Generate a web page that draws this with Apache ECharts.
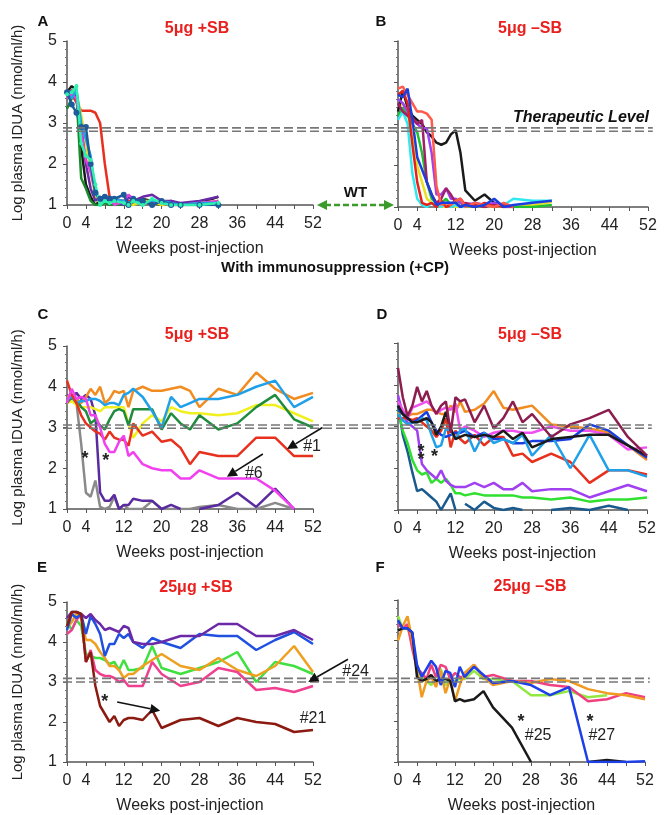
<!DOCTYPE html>
<html>
<head>
<meta charset="utf-8">
<script src="https://cdn.jsdelivr.net/npm/echarts@6/dist/echarts.min.js"></script>
<style>
html,body{margin:0;padding:0;background:#fff;}
#chart{width:669px;height:815px;}
</style>
</head>
<body>
<div id="chart"></div>
<script>
// weeks sampled in each panel
var weeksA = [0,1,2,3,4,5,6,7,8,9,10,12,13,14,16,18,20,22,24,28,32];
var weeksB = [0,1,2,3,4,5,6,7,8,9,10,11,12,13,14,16,18,20,22,24,28,32];
var weeksCD = [0,1,2,3,4,5,6,7,8,9,10,11,12,13,14,16,18,20,22,24,26,28,32,36,40,44,48,52];
var weeksEF = [0,1,2,3,4,5,6,7,8,9,10,11,12,13,14,16,18,20,24,28,32,36,40,44,48,52];

// A: 5ug +SB, no CP
var aBlack   = [3.75,3.9,3.8,2.4,1.5,1.2,1.0,1.1,1.15,1.1,1.05,1.05,1.1,1.05,1.15,1.1,1.0,1.1,1.0,1.05,1.2];
var aRed     = [3.8,3.7,3.5,3.3,3.3,3.3,3.25,3.0,2.0,1.2,1.15,1.1,1.1,1.05,1.05,1.05,1.0,1.0,1.0,null,null];
var aGreen   = [3.35,3.6,3.7,1.65,1.4,1.1,1.0,1.0,1.05,1.0,1.0,1.0,1.05,1.0,1.1,1.05,1.0,1.05,1.0,1.0,1.1];
var aYellow  = [3.7,3.8,3.7,3.2,2.5,1.8,1.2,1.05,1.1,1.1,1.05,1.05,1.0,1.0,1.1,1.1,1.0,1.05,1.0,1.05,1.1];
var aPurple  = [3.7,3.8,3.6,2.9,2.0,1.4,1.1,1.2,1.1,1.15,1.1,1.0,1.2,1.1,1.2,1.25,1.1,1.1,1.05,1.1,1.2];
var aMagenta = [3.6,3.7,3.6,2.8,2.1,1.8,1.3,1.1,1.15,1.2,1.0,1.1,1.25,1.15,1.05,1.1,1.05,1.0,1.0,1.05,1.1];
var aSky     = [3.7,3.6,3.8,3.0,2.6,2.2,1.3,1.1,1.1,1.2,1.15,1.1,1.05,1.1,1.05,1.1,1.1,1.05,1.0,1.05,1.05];
var aNavy    = [3.75,3.45,3.25,2.9,2.9,2.0,1.3,1.15,1.2,1.15,1.15,1.25,1.0,1.15,1.1,1.0,1.1,1.0,1.0,1.0,1.0];
var aAqua    = [3.7,3.75,3.9,2.5,2.2,2.1,1.5,1.0,1.1,1.05,1.1,1.05,1.0,1.1,1.0,1.15,1.05,1.0,1.0,1.0,1.05];

// B: 5ug -SB, no CP
var bBlack  = [3.3,3.8,3.4,3.2,3.1,3.0,2.8,2.7,2.55,2.5,2.55,2.75,2.85,2.3,1.4,1.15,1.3,1.1,1.05,1.0,null,null];
var bSalmon = [3.85,3.9,3.7,3.5,3.3,3.3,3.25,3.1,1.5,1.05,1.1,1.05,1.15,1.2,1.0,1.1,1.05,1.0,1.1,1.0,null,null];
var bRed    = [3.7,3.8,3.5,2.5,1.6,1.1,1.05,1.1,1.0,1.15,1.0,1.05,1.15,1.2,1.05,1.0,1.1,1.0,1.05,1.0,null,null];
var bBlue   = [3.7,3.65,3.85,3.1,2.2,1.9,1.6,1.3,1.05,1.1,1.1,1.1,1.1,1.0,1.05,1.0,1.05,1.2,1.0,1.05,1.1,1.15];
var bViolet = [3.6,3.5,3.3,3.1,3.0,2.9,2.9,2.3,1.3,1.3,1.45,1.2,1.2,1.1,1.05,1.1,1.05,1.1,1.0,1.0,null,null];
var bMaroon = [3.5,3.3,3.2,3.15,3.0,3.1,1.6,1.3,1.1,1.2,1.45,1.3,1.1,1.0,1.1,1.05,1.0,1.05,1.0,null,null,null];
var bGreen  = [3.2,3.4,3.2,3.0,2.8,2.3,1.6,1.2,1.1,1.1,1.2,1.05,1.15,1.1,1.0,1.05,1.0,1.1,1.0,1.0,1.0,1.05];
var bCyan   = [3.1,3.3,3.0,1.8,1.2,1.05,1.0,1.1,1.05,1.0,1.1,1.0,1.05,1.0,1.0,1.1,1.05,1.0,1.05,1.2,1.15,1.15];
var bYellow = [3.4,3.5,3.3,2.7,2.0,1.6,1.2,1.1,1.05,1.0,1.0,1.05,1.0,1.0,1.0,1.0,1.0,1.0,1.0,1.0,1.05,1.12];

// C: 5ug +SB, +CP
var cOrange  = [3.75,3.8,3.7,3.6,3.75,3.95,3.8,4.0,3.6,3.7,3.9,3.85,3.9,3.5,3.9,4.0,3.9,3.9,3.95,4.0,3.9,3.5,3.95,3.8,4.35,3.95,3.7,3.85];
var cBlue    = [3.7,3.75,3.6,3.65,3.65,3.7,3.7,3.65,3.55,3.6,3.6,3.55,3.8,3.85,3.95,3.75,3.4,3.0,3.75,3.5,3.6,3.7,3.7,3.8,4.0,4.15,3.5,3.75];
var cGreen   = [3.6,3.75,3.7,3.5,3.4,3.1,3.2,3.05,2.95,3.2,3.4,3.45,3.4,3.05,3.45,3.45,3.45,2.95,3.35,3.1,2.95,3.3,2.95,3.1,3.5,3.8,3.2,3.0];
var cYellow  = [3.6,3.65,3.55,3.5,3.5,3.5,3.45,3.4,3.5,3.5,3.5,3.5,3.5,3.1,2.75,3.1,3.3,3.15,3.5,3.4,3.35,3.35,3.3,3.35,3.55,3.55,3.35,3.15];
var cRed     = [4.15,3.8,3.6,3.3,3.1,3.0,2.9,2.85,2.7,2.9,2.75,2.7,2.7,2.55,3.1,2.8,2.9,2.65,2.7,2.5,2.1,2.4,2.3,2.3,2.75,2.75,2.3,2.3];
var cMagenta = [3.6,3.95,3.7,3.75,3.7,3.3,3.3,3.0,2.6,2.4,2.4,2.65,2.8,2.3,2.4,2.1,2.0,1.95,1.95,1.75,1.75,1.95,1.75,1.75,1.75,1.45,1.0,null];
var cPurple  = [3.8,3.7,3.85,3.7,3.8,3.7,3.3,1.4,1.2,1.2,1.35,1.0,1.1,1.1,1.25,1.2,1.2,1.0,1.1,1.0,null,1.0,1.1,1.4,1.05,1.5,1.0,null];
var cGray    = [3.7,3.65,3.6,2.6,1.4,1.3,1.7,1.05,1.0,1.05,1.3,1.0,1.1,1.0,1.0,1.0,1.2,1.0,1.0,1.0,1.0,1.05,1.1,1.0,1.0,1.15,1.0,null];

// D: 5ug -SB, +CP
var dMaroon = [4.4,3.7,3.25,3.5,3.95,3.6,3.85,3.5,3.3,3.5,3.6,2.85,3.7,3.6,3.65,3.1,3.5,2.95,3.2,3.6,3.1,3.3,2.75,3.05,3.2,3.4,2.75,2.3];
var dOrange = [3.3,3.35,3.25,3.3,3.3,3.35,3.4,3.4,3.35,3.3,3.3,3.5,3.35,3.6,3.35,3.4,3.55,3.85,3.45,3.4,3.45,3.5,3.05,3.0,2.95,2.85,2.55,2.2];
var dPink   = [3.6,3.4,3.2,3.45,3.5,3.55,3.6,3.5,3.3,3.4,3.45,3.4,3.55,2.9,3.0,2.9,2.75,2.85,2.9,2.9,2.85,2.85,3.0,2.9,2.9,2.8,2.45,2.5];
var dBlack  = [3.5,3.3,3.2,3.1,3.1,3.15,3.2,3.1,2.8,3.0,3.35,2.95,2.7,2.75,2.8,2.75,2.8,2.75,2.9,2.7,2.85,2.5,2.7,2.75,2.8,2.8,2.55,2.3];
var dBlue   = [3.4,3.3,3.2,3.1,3.15,3.25,3.35,3.1,2.9,2.8,2.75,2.8,2.85,2.85,2.9,2.75,2.85,2.7,2.7,2.6,2.6,2.65,2.65,2.7,3.05,2.9,2.55,2.25];
var dSky    = [3.3,3.15,3.05,3.1,3.1,3.2,3.15,2.8,2.5,2.55,2.95,2.9,2.7,2.9,2.95,2.4,2.85,2.6,2.7,2.6,2.8,2.3,2.8,2.0,2.8,1.95,1.95,1.8];
var dRed    = [3.2,3.2,3.2,3.15,3.2,3.1,3.0,2.9,2.75,2.9,3.2,2.5,2.9,2.7,2.6,2.8,2.55,2.75,2.75,2.3,2.35,2.15,2.35,2.15,1.65,1.95,1.95,1.85];
var dViolet = [3.75,3.3,3.1,3.0,2.9,2.1,1.95,1.85,1.75,1.95,1.7,1.6,1.55,1.55,1.55,1.65,1.55,1.65,1.5,1.5,1.65,1.45,1.5,1.5,1.3,1.45,1.6,1.45];
var dGreen  = [3.4,2.9,2.6,2.2,1.95,1.85,1.9,1.65,1.75,1.65,1.75,1.6,1.4,1.4,1.35,1.4,1.35,1.35,1.35,1.35,1.3,1.3,1.25,1.3,1.2,1.25,1.25,1.3];
var dTeal   = [3.5,2.8,2.4,1.9,1.45,1.5,1.4,1.3,1.2,1.0,1.2,1.4,1.0,null,1.15,1.0,1.2,1.05,1.0,1.05,1.0,null,1.0,1.05,1.0,1.1,1.0,null];

// E: 25ug +SB, +CP
var ePurple  = [4.6,4.75,4.75,4.7,4.6,4.7,4.55,4.45,4.3,4.35,4.3,4.25,4.4,4.35,4.0,3.95,3.95,4.0,4.15,4.15,4.45,4.45,4.15,4.15,4.3,4.05];
var eBlue    = [4.3,4.7,4.6,4.7,4.2,4.65,4.45,4.2,3.65,3.95,3.95,4.2,4.1,4.2,4.0,3.85,4.1,4.0,3.85,4.2,4.15,4.15,3.8,4.05,4.25,3.95];
var eGreen   = [4.5,4.3,4.55,4.4,3.7,3.65,3.6,3.6,3.55,3.45,3.5,3.3,3.55,3.3,3.3,3.35,3.9,3.35,3.2,3.35,3.5,3.75,3.0,3.5,3.4,3.2];
var eOrange  = [4.35,4.5,4.7,4.6,4.05,4.05,3.95,3.75,3.6,3.4,3.4,3.3,3.1,3.2,3.2,3.4,3.55,3.7,3.4,3.3,3.6,3.3,3.15,3.4,3.9,3.25];
var ePink    = [4.2,4.3,4.55,4.7,3.5,3.8,3.3,3.2,3.15,3.15,3.1,3.0,3.05,2.9,2.9,2.9,3.5,3.2,2.9,3.0,3.35,3.25,2.8,2.85,2.75,2.9];
var eDarkRed = [4.4,4.75,4.75,4.7,3.5,3.75,2.9,2.4,2.2,2.0,2.15,1.9,2.05,2.1,2.1,2.05,2.3,1.85,2.05,2.1,1.9,2.1,2.0,1.95,1.75,1.8];

// F: 25ug -SB, +CP
var fLime   = [4.6,4.3,4.3,4.0,3.3,3.1,3.0,2.9,3.1,3.3,2.9,3.0,3.0,3.05,3.05,3.25,3.05,3.05,3.0,2.65,2.65,2.75,2.6,2.65,null,null];
var fPink   = [4.4,4.3,4.4,3.8,3.3,3.2,3.05,3.4,3.1,3.4,3.35,3.05,3.2,3.1,3.1,3.4,3.1,3.15,3.0,3.0,2.9,2.85,2.5,2.55,2.7,2.6];
var fOrange = [4.0,4.35,4.6,4.0,3.3,2.6,3.0,3.1,2.85,3.25,2.7,3.05,2.5,2.9,3.2,3.4,3.1,2.9,3.0,2.95,3.05,3.0,2.8,2.7,2.65,2.55];
var fBlack  = [4.25,4.3,4.3,4.2,3.1,3.0,3.05,3.15,3.0,3.05,3.05,3.0,2.5,2.55,2.5,2.55,2.75,2.35,1.85,1.0,null,null,1.0,1.05,1.0,null];
var fBlue   = [4.5,4.3,4.3,4.2,3.4,3.1,3.3,3.5,3.35,2.9,3.25,3.2,2.85,3.35,3.1,3.35,3.15,2.95,3.0,2.9,2.65,2.85,1.0,1.0,1.0,1.02];

// therapeutic level bands (two dashed lines per row)
var therapTop = [2.88, 2.80];
var therapMid = [3.06, 2.98];
var therapBot = [3.09, 3.00];

var FONT = '"Liberation Sans", Arial, sans-serif';
var panelTitles = ['5\u03bcg +SB', '5\u03bcg \u2013SB', '5\u03bcg +SB', '5\u03bcg \u2013SB', '25\u03bcg +SB', '25\u03bcg \u2013SB'];

function pts(weeks, vals) {
    return weeks.map(function (w, i) {
        var v = vals[i];
        return [w, (v === null || v === undefined) ? '-' : v];
    });
}

var series = [];
function add(panel, weeks, vals, color, sym) {
    series.push({
        type: 'line',
        xAxisIndex: panel,
        yAxisIndex: panel,
        data: pts(weeks, vals),
        showSymbol: !!sym,
        symbol: sym ? 'circle' : 'none',
        symbolSize: sym || 0,
        itemStyle: { color: color },
        lineStyle: { color: color, width: 2.5 },
        connectNulls: false,
        silent: true,
        animation: false
    });
}

add(0, weeksA, aBlack, '#1a1a1a');
add(0, weeksA, aRed, '#e8301e');
add(0, weeksA, aGreen, '#1a8a2a');
add(0, weeksA, aYellow, '#e8e020');
add(0, weeksA, aPurple, '#6a2aa8');
add(0, weeksA, aMagenta, '#e040e0');
add(0, weeksA, aSky, '#20a0e8');
add(0, weeksA, aNavy, '#1f5a9a', 6);
add(0, weeksA, aAqua, '#30f0b0', 4);

add(1, weeksB, bYellow, '#e8e020');
add(1, weeksB, bGreen, '#20c030');
add(1, weeksB, bCyan, '#30e8f0');
add(1, weeksB, bBlack, '#1a1a1a');
add(1, weeksB, bViolet, '#a040f0');
add(1, weeksB, bMaroon, '#a0206a');
add(1, weeksB, bRed, '#e8201a');
add(1, weeksB, bSalmon, '#ff5a4a');
add(1, weeksB, bBlue, '#1a3ee0');

add(2, weeksCD, cGray, '#8a8a8a');
add(2, weeksCD, cPurple, '#5a2aa0');
add(2, weeksCD, cYellow, '#f0f020');
add(2, weeksCD, cGreen, '#1e8c3c');
add(2, weeksCD, cOrange, '#f08c20');
add(2, weeksCD, cBlue, '#20a0e8');
add(2, weeksCD, cRed, '#e8301e');
add(2, weeksCD, cMagenta, '#f040f0');

add(3, weeksCD, dTeal, '#1a5a8c');
add(3, weeksCD, dGreen, '#30e030');
add(3, weeksCD, dViolet, '#a040f0');
add(3, weeksCD, dRed, '#e8301e');
add(3, weeksCD, dOrange, '#f08c20');
add(3, weeksCD, dPink, '#f050f0');
add(3, weeksCD, dBlue, '#1a3ee0');
add(3, weeksCD, dSky, '#20a0e8');
add(3, weeksCD, dBlack, '#1a1a1a');
add(3, weeksCD, dMaroon, '#8b1e4e');

add(4, weeksEF, eGreen, '#40e040');
add(4, weeksEF, eOrange, '#f0a020');
add(4, weeksEF, ePink, '#f04090');
add(4, weeksEF, eBlue, '#2050e0');
add(4, weeksEF, ePurple, '#6a2aa8');
add(4, weeksEF, eDarkRed, '#8b1a10');

add(5, weeksEF, fLime, '#90e840');
add(5, weeksEF, fPink, '#f04080');
add(5, weeksEF, fOrange, '#f09a20');
add(5, weeksEF, fBlack, '#1a1a1a');
add(5, weeksEF, fBlue, '#1e40e8');

var grids = [
    { left: 67, top: 41, width: 246, height: 164 },
    { left: 398, top: 41, width: 250, height: 166 },
    { left: 67, top: 346, width: 246, height: 163 },
    { left: 398, top: 343, width: 249, height: 167 },
    { left: 67, top: 602, width: 246, height: 162 },
    { left: 398, top: 600, width: 247, height: 164 }
];

var xAxes = grids.map(function (g, i) {
    return {
        type: 'value', gridIndex: i, min: 0, max: 52, interval: 4,
        name: 'Weeks post-injection', nameLocation: 'middle', nameGap: 36,
        nameTextStyle: { fontFamily: FONT, fontSize: 16, color: '#222' },
        axisLine: { lineStyle: { color: '#555', width: 1.5 } },
        axisTick: { length: 4, lineStyle: { color: '#555' } },
        splitLine: { show: false },
        axisLabel: {
            margin: 11, fontFamily: FONT, fontSize: 16, color: '#222',
            formatter: function (v) { return (v === 0 || (v - 4) % 8 === 0) ? String(v) : ''; }
        }
    };
});

var yAxes = grids.map(function (g, i) {
    var left = i % 2 === 0;
    return {
        type: 'value', gridIndex: i, min: 1, max: 5, interval: 1,
        name: left ? 'Log plasma IDUA (nmol/ml/h)' : '',
        nameLocation: 'middle', nameGap: 42,
        nameTextStyle: { fontFamily: FONT, fontSize: 15, color: '#222' },
        axisLine: { show: true, lineStyle: { color: '#555', width: 1.5 } },
        axisTick: { show: true, length: 4, lineStyle: { color: '#555' } },
        minorTick: { show: true, splitNumber: 5, length: 2, lineStyle: { color: '#777' } },
        splitLine: { show: false },
        axisLabel: { show: left, margin: 10, fontFamily: FONT, fontSize: 16, color: '#222' }
    };
});

var chart = echarts.init(document.getElementById('chart'));
chart.setOption({
    animation: false,
    backgroundColor: '#fff',
    grid: grids,
    xAxis: xAxes,
    yAxis: yAxes,
    series: series
});

// annotations placed through the axes' own scales
function px(panel, pt) { return chart.convertToPixel({ gridIndex: panel }, pt); }

function txt(x, y, text, font, color, align) {
    return {
        type: 'text', z: 100, x: x, y: y,
        style: {
            text: text, font: font, fill: color || '#222',
            align: align || 'center', verticalAlign: 'middle',
            textAlign: align || 'center', textVerticalAlign: 'middle'
        }
    };
}

function arrow(p0, p1, color, width, hl, hw) {
    var dx = p1[0] - p0[0], dy = p1[1] - p0[1];
    var len = Math.sqrt(dx * dx + dy * dy), ux = dx / len, uy = dy / len;
    var bx = p1[0] - ux * hl, by = p1[1] - uy * hl;
    return [
        { type: 'line', z: 100, shape: { x1: p0[0], y1: p0[1], x2: bx, y2: by }, style: { stroke: color, lineWidth: width } },
        { type: 'polygon', z: 100, shape: { points: [[p1[0], p1[1]], [bx - uy * hw, by + ux * hw], [bx + uy * hw, by - ux * hw]] }, style: { fill: color } }
    ];
}

function band(pl, pr, vals) {
    return vals.map(function (v) {
        var a = px(pl, [0, v]), b = px(pr, [53, v]);
        return {
            type: 'line', z: 90,
            shape: { x1: a[0] - 4, y1: a[1], x2: b[0], y2: a[1] },
            style: { stroke: '#777', lineWidth: 1.6, lineDash: [9, 4] }
        };
    });
}

var g = [];
g = g.concat(band(0, 1, therapTop), band(2, 3, therapMid), band(4, 5, therapBot));

var B = 'bold 16px ' + FONT;
var N = '16px ' + FONT;
var titleAt = [[197, 29], [530, 29], [197, 335], [530, 335], [196, 588], [530, 587]];
titleAt.forEach(function (p, i) { g.push(txt(p[0], p[1], panelTitles[i], B, '#e8201e')); });
var letters = [['A', 43, 22], ['B', 381, 22], ['C', 43, 315], ['D', 382, 315], ['E', 42, 568], ['F', 380, 568]];
letters.forEach(function (l) { g.push(txt(l[1], l[2], l[0], 'bold 15px ' + FONT, '#111')); });

g.push(txt(335, 268, 'With immunosuppression (+CP)', 'bold 15px ' + FONT, '#111'));
g.push(txt(581, 118, 'Therapeutic Level', 'italic bold 16px ' + FONT, '#111'));

// WT double arrow between A and B
var wa = px(0, [52, 1]), wb = px(1, [0, 1]);
var wy = wa[1];
g.push({ type: 'line', z: 100, shape: { x1: wa[0] + 12, y1: wy, x2: wb[0] - 12, y2: wy }, style: { stroke: '#3a9a2a', lineWidth: 2.5, lineDash: [6, 3] } });
g.push({ type: 'polygon', z: 100, shape: { points: [[wa[0] + 4, wy], [wa[0] + 14, wy - 5], [wa[0] + 14, wy + 5]] }, style: { fill: '#3a9a2a' } });
g.push({ type: 'polygon', z: 100, shape: { points: [[wb[0] - 4, wy], [wb[0] - 14, wy - 5], [wb[0] - 14, wy + 5]] }, style: { fill: '#3a9a2a' } });
g.push(txt((wa[0] + wb[0]) / 2, wy - 12, 'WT', 'bold 15px ' + FONT, '#111'));

// panel C notes
var p;
g = g.concat(arrow(px(2, [54, 3.0]), px(2, [46.5, 2.47]), '#111', 1.6, 10, 5));
p = px(2, [51.8, 2.52]); g.push(txt(p[0], p[1], '#1', N));
g = g.concat(arrow(px(2, [41.4, 2.35]), px(2, [33.8, 1.79]), '#111', 1.6, 10, 5));
p = px(2, [39.5, 1.88]); g.push(txt(p[0], p[1], '#6', N));
p = px(2, [3.8, 2.22]); g.push(txt(p[0], p[1], '*', 'bold 18px ' + FONT));
p = px(2, [8.2, 2.17]); g.push(txt(p[0], p[1], '*', 'bold 18px ' + FONT));

// panel D notes
p = px(3, [4.8, 2.4]); g.push(txt(p[0], p[1], '*', 'bold 18px ' + FONT));
p = px(3, [4.8, 2.2]); g.push(txt(p[0], p[1], '*', 'bold 18px ' + FONT));
p = px(3, [7.6, 2.28]); g.push(txt(p[0], p[1], '*', 'bold 18px ' + FONT));

// panel E notes
p = px(4, [8.0, 2.5]); g.push(txt(p[0], p[1], '*', 'bold 18px ' + FONT));
g = g.concat(arrow(px(4, [10.6, 2.5]), px(4, [19.7, 2.28]), '#111', 1.6, 10, 5));
p = px(4, [52, 2.09]); g.push(txt(p[0], p[1], '#21', N));
g = g.concat(arrow(px(4, [59.4, 3.57]), px(4, [51, 3.0]), '#111', 1.6, 10, 5));
p = px(4, [61, 3.27]); g.push(txt(p[0], p[1], '#24', N));

// panel F notes
p = px(5, [25.9, 1.98]); g.push(txt(p[0], p[1], '*', 'bold 18px ' + FONT));
p = px(5, [29.5, 1.66]); g.push(txt(p[0], p[1], '#25', N));
p = px(5, [40.4, 1.98]); g.push(txt(p[0], p[1], '*', 'bold 18px ' + FONT));
p = px(5, [42.9, 1.66]); g.push(txt(p[0], p[1], '#27', N));

chart.setOption({ graphic: g });
</script>
</body>
</html>
